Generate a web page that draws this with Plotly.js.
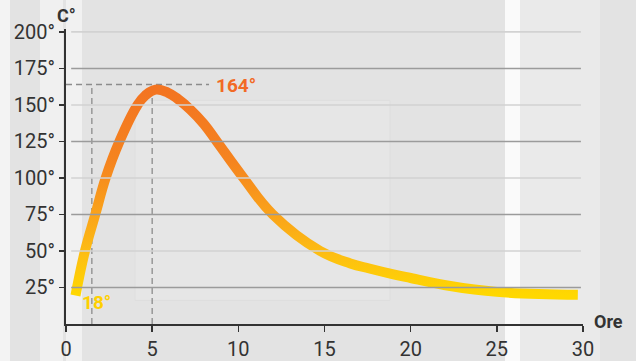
<!DOCTYPE html>
<html>
<head>
<meta charset="utf-8">
<script src="https://cdn.plot.ly/plotly-3.0.1.min.js"></script>
<style>
  html, body { margin: 0; padding: 0; background: #e3e3e3; }
  #chart { width: 636px; height: 361px; }
</style>
</head>
<body>
<div id="chart"></div>
<script>
// ---- data ----
const hours = [0.55, 1.1, 1.7, 2.3, 3.1, 4.15, 4.6, 5.2, 5.9, 6.5, 7.2, 8.0, 8.75, 10.3, 12.0, 14.75, 16.5, 17.6, 19.0, 20.0, 22.3, 25.0, 29.7];
const temps = [19.5, 50, 75, 100, 125, 150, 156.5, 160.5, 158.5, 154, 147, 137, 125, 100, 75, 50, 41.5, 38, 34, 31.5, 26, 22, 20];
const xTickVals = [0, 5, 10, 15, 20, 25, 30];
const yTickVals = [25, 50, 75, 100, 125, 150, 175, 200];
const yTickText = ["25°", "50°", "75°", "100°", "125°", "150°", "175°", "200°"];
const peakLabel = "164°";
const peakValue = 164;
const startLabel = "18°";
const startLabelValue = 14.4;
const guideHours = [1.5, 5];
const guideEndHour = 8.3;

const darkGrid = "#9b9b9b", lightGrid = "#d2d2d2";
const toPaperX = px => (px - 66) / 517;

const shapes = [];
// background bands (decorative, approximating the photo backdrop)
const bands = [
  [0, 10, "#f3f3f3"], [40, 63, "#f0f0f0"], [66, 82, "#f1f1f1"],
  [505, 520, "#fafafa"], [520, 600, "#eaeaea"]
];
bands.forEach(b => shapes.push({type: "rect", xref: "paper", yref: "paper",
  x0: toPaperX(b[0]), x1: toPaperX(b[1]), y0: -0.2, y1: 1.2,
  fillcolor: b[2], line: {width: 0}, layer: "below"}));
shapes.push({type: "rect", xref: "paper", yref: "paper",
  x0: toPaperX(135), x1: toPaperX(390), y0: 0.08, y1: 0.758,
  fillcolor: "#e6e6e6", line: {color: "#dedede", width: 1}, layer: "below"});

// dashed guides
shapes.push({type: "line", xref: "x", yref: "y", x0: 0, x1: guideEndHour, y0: peakValue, y1: peakValue,
  line: {color: "#8c8c8c", width: 1.3, dash: "6px,4px"}, layer: "below"});
guideHours.forEach(h => shapes.push({type: "line", xref: "x", yref: "y", x0: h, x1: h, y0: 0, y1: peakValue,
  line: {color: "#8c8c8c", width: 1.3, dash: "6px,4px"}, layer: "below"}));

// gridlines drawn over the curve
yTickVals.forEach((v, i) => shapes.push({type: "line", xref: "paper", yref: "y",
  x0: 0.01, x1: 0.996, y0: v, y1: v,
  line: {color: (i % 2 === 0) ? darkGrid : lightGrid, width: 1.6}, layer: "above"}));

const trace = {
  x: hours, y: temps, type: "scatter", mode: "lines",
  line: {color: "#F7901E", width: 10, shape: "spline", smoothing: 1.2},
  hoverinfo: "skip", showlegend: false
};

const font = "Roboto, 'Noto Sans', Arial, sans-serif";
const layout = {
  width: 636, height: 361,
  margin: {l: 66, r: 53, t: 29, b: 37, pad: 0},
  paper_bgcolor: "#e3e3e3",
  plot_bgcolor: "rgba(0,0,0,0)",
  font: {family: font, color: "#333333", size: 20},
  showlegend: false,
  xaxis: {
    range: [0, 30], tickvals: xTickVals, ticktext: xTickVals.map(String),
    showgrid: false, zeroline: false, showline: true, linecolor: "#333333", linewidth: 2,
    ticks: "outside", ticklen: 6, tickwidth: 1.5, tickcolor: "#333333",
    tickfont: {family: font, size: 20, color: "#333333"}
  },
  yaxis: {
    range: [0, 202], tickvals: yTickVals, ticktext: yTickText,
    showgrid: false, zeroline: false, showline: true, linecolor: "#333333", linewidth: 2,
    ticks: "outside", ticklen: 5, tickwidth: 1.5, tickcolor: "#333333",
    tickfont: {family: font, size: 20, color: "#333333"}
  },
  shapes: shapes,
  annotations: [
    {text: "<b>C°</b>", xref: "x", yref: "paper", x: 0, y: 1.045, xanchor: "center", yanchor: "middle",
     showarrow: false, font: {family: font, size: 18, color: "#333333"}},
    {text: "<b>Ore</b>", xref: "paper", yref: "paper", x: toPaperX(592), y: 0.01, xanchor: "left", yanchor: "middle",
     showarrow: false, font: {family: font, size: 18, color: "#333333"}},
    {text: "<b>" + peakLabel + "</b>", xref: "x", yref: "y", x: 8.6, y: peakValue - 1, xanchor: "left", yanchor: "middle",
     showarrow: false, font: {family: font, size: 19, color: "#F26A25"}},
    {text: "<b>" + startLabel + "</b>", xref: "x", yref: "y", x: 0.8, y: startLabelValue, xanchor: "left", yanchor: "middle",
     showarrow: false, font: {family: font, size: 19, color: "#FFD000"}}
  ]
};

Plotly.newPlot("chart", [trace], layout, {staticPlot: true, displayModeBar: false}).then(gd => {
  const svg = gd.querySelector("svg.main-svg");
  const ns = "http://www.w3.org/2000/svg";
  let defs = svg.querySelector("defs");
  if (!defs) { defs = document.createElementNS(ns, "defs"); svg.insertBefore(defs, svg.firstChild); }
  const grad = document.createElementNS(ns, "linearGradient");
  grad.setAttribute("id", "tempGrad");
  grad.setAttribute("x1", "0"); grad.setAttribute("y1", "0");
  grad.setAttribute("x2", "0"); grad.setAttribute("y2", "1");
  [[0, "#F37421"], [0.35, "#F5841F"], [0.6, "#FAA21A"], [0.8, "#FDBE12"], [1, "#FFD800"]].forEach(s => {
    const st = document.createElementNS(ns, "stop");
    st.setAttribute("offset", s[0]); st.setAttribute("stop-color", s[1]);
    grad.appendChild(st);
  });
  defs.appendChild(grad);
  const path = gd.querySelector(".scatterlayer .trace path.js-line");
  if (path) path.style.stroke = "url(#tempGrad)";
});
</script>
</body>
</html>
